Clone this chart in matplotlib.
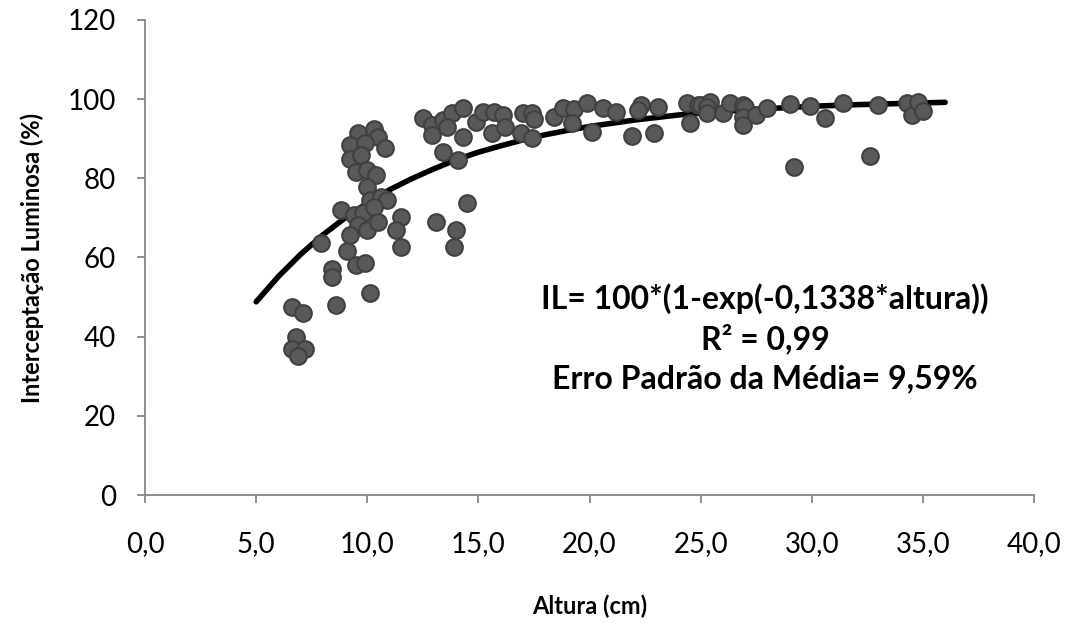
import matplotlib
matplotlib.use("Agg")
import matplotlib.pyplot as plt

# Observed points (altura em cm, interceptação luminosa em %)
altura = [6.6, 7.1, 6.8, 6.6, 7.2, 6.9, 8.6, 10.1, 8.4, 8.4, 9.1, 9.5, 9.9, 11.5, 7.9,
          12.5, 12.9, 12.9, 13.4, 13.8, 13.6, 13.4, 14.1, 10.3, 9.6, 10.5, 9.2, 9.9, 10.8,
          9.2, 9.7, 9.5, 10.0, 10.4, 10.0, 10.1, 10.6, 10.9, 8.8, 9.4, 9.8, 10.3, 9.6, 10.0,
          10.5, 9.2, 11.5, 11.3, 13.1, 14.0, 13.9, 14.5, 14.3, 14.3,
          14.9, 15.2, 15.7, 16.1, 15.6, 16.2, 17.0, 17.4, 17.5, 16.9, 17.4, 18.4, 18.8, 19.3,
          19.2, 19.9, 20.6, 20.1, 21.2, 21.9, 22.3, 22.2, 22.9, 23.1, 24.4, 24.5, 24.9,
          25.0, 25.4, 25.3, 25.3, 26.0, 26.3, 26.9, 27.0, 26.9, 26.9, 27.5, 28.0, 29.0, 29.2,
          29.9, 30.6, 31.4, 32.6, 33.0, 34.3, 34.5, 34.8, 35.0]
il = [47.5, 46.0, 40.0, 37.0, 37.0, 35.0, 48.0, 51.0, 57.0, 55.0, 61.6, 58.0, 58.6, 62.6, 63.7,
      95.2, 93.5, 91.0, 94.7, 96.5, 93.0, 86.7, 84.6, 92.5, 91.5, 90.5, 88.4, 89.0, 87.7,
      85.0, 86.0, 81.6, 82.0, 80.8, 77.8, 74.5, 75.3, 74.5, 72.0, 70.7, 71.2, 72.8, 68.2, 67.0,
      69.0, 65.7, 70.2, 67.0, 69.0, 67.0, 62.6, 73.8, 97.8, 90.4,
      94.2, 96.8, 96.8, 96.0, 91.5, 93.0, 96.5, 96.5, 95.0, 91.5, 90.2, 95.5, 97.8, 97.5,
      94.0, 99.0, 97.8, 91.7, 96.8, 90.7, 98.5, 97.3, 91.5, 98.0, 99.0, 94.0, 98.5,
      98.5, 99.3, 98.0, 96.5, 96.5, 99.0, 98.5, 98.0, 95.5, 93.5, 96.0, 97.8, 98.8, 82.9,
      98.3, 95.2, 99.0, 85.6, 98.5, 99.0, 96.0, 99.3, 97.0]

# Fitted curve as drawn (IL = 100*(1-exp(-0,1338*altura)))
curva_x = [5, 6, 7, 8, 9, 10, 11, 12, 13, 14, 15, 16, 17, 18, 19, 20, 22, 24, 26, 28, 30, 32, 34, 36]
curva_y = [48.8, 55.2, 60.8, 65.7, 70.0, 73.8, 77.1, 79.9, 82.4, 84.7, 86.6, 88.2, 89.7, 91.0,
           92.1, 93.1, 94.7, 96.0, 96.9, 97.6, 98.2, 98.6, 98.9, 99.2]

x_ticks = [0, 5, 10, 15, 20, 25, 30, 35, 40]
y_ticks = [0, 20, 40, 60, 80, 100, 120]

plt.rcParams['font.family'] = ['Lato', 'DejaVu Sans']

fig = plt.figure(figsize=(10.72, 6.24), dpi=100)
ax = fig.add_axes([0.1353, 0.2067, 0.8293, 0.7613])

ax.plot(curva_x, curva_y, color='black', linewidth=4, solid_capstyle='round', zorder=2)
ax.plot(altura, il, linestyle='none', marker='o', markersize=12,
        markerfacecolor='#595959', markeredgecolor='#404040', markeredgewidth=1.5, zorder=3)

ax.set_xlim(0, 40)
ax.set_ylim(0, 120)
ax.set_xticks(x_ticks)
ax.set_xticklabels([f"{v:.1f}".replace('.', ',') for v in x_ticks])
ax.set_yticks(y_ticks)

for s in ['top', 'right']:
    ax.spines[s].set_visible(False)
for s in ['left', 'bottom']:
    ax.spines[s].set_color('#868686')
    ax.spines[s].set_linewidth(1.3)
ax.tick_params(axis='both', colors='#868686', length=6, width=1.3, labelsize=20,
               labelcolor='black')
ax.tick_params(axis='y', pad=15)
ax.tick_params(axis='x', pad=20)

ax.set_xlabel('Altura (cm)', fontsize=17, fontweight='bold', labelpad=27)
ax.set_ylabel('Interceptação Luminosa (%)', fontsize=17, fontweight='bold', labelpad=17)

texto = ['IL= 100*(1-exp(-0,1338*altura))', 'R² = 0,99', 'Erro Padrão da Média= 9,59%']
for i, t in enumerate(texto):
    ax.text(27.9, 49.5 - i * 10.1, t, fontsize=23, fontweight='bold', ha='center', va='center')

fig.savefig('out.png', dpi=100)
